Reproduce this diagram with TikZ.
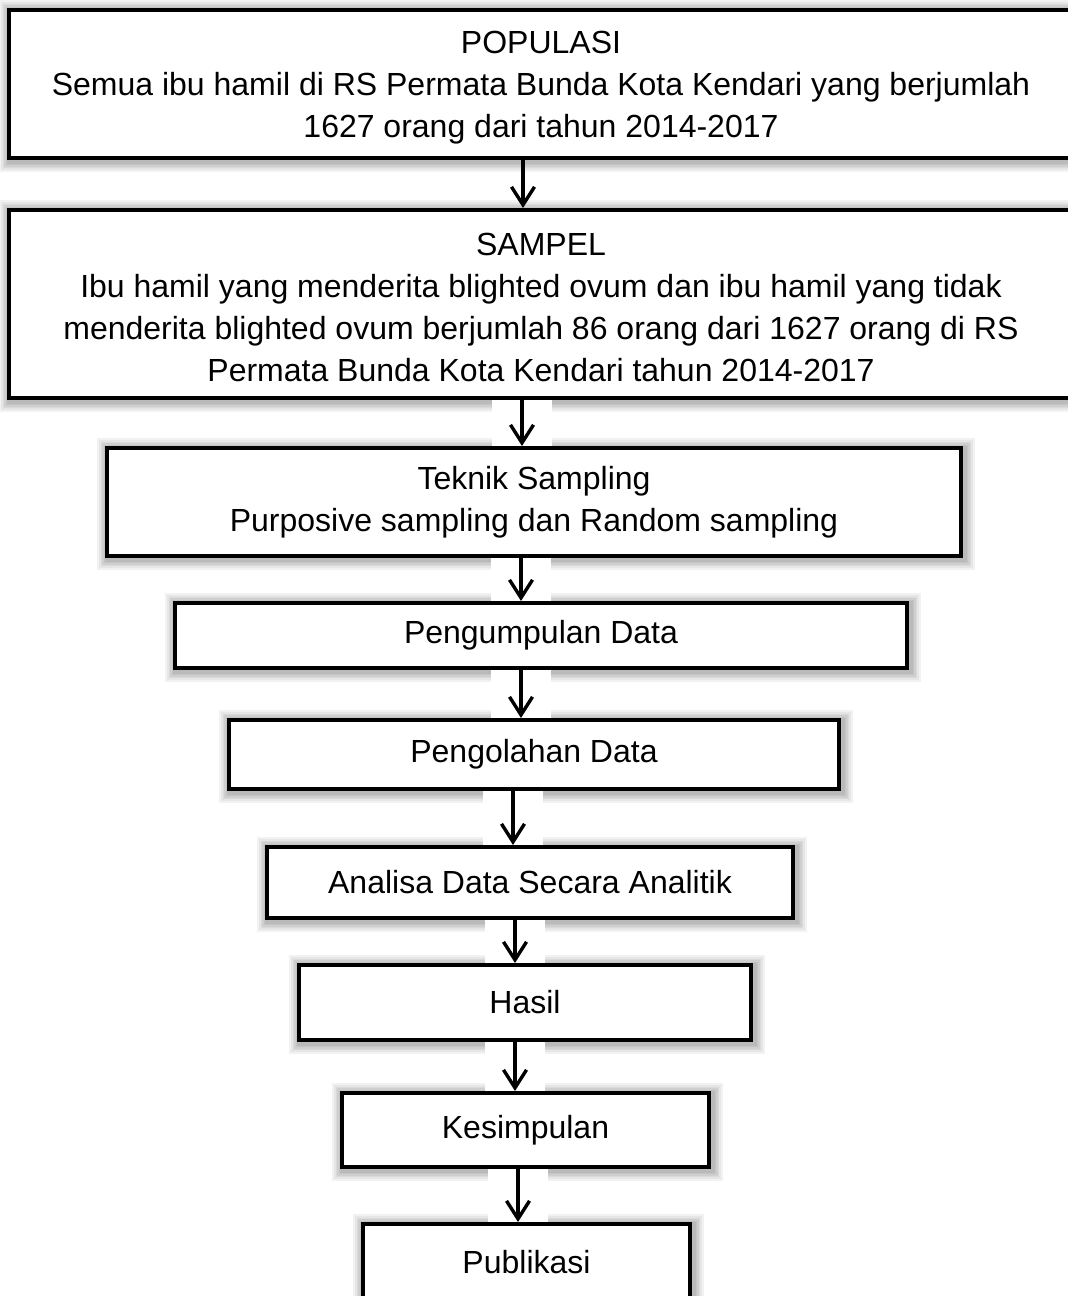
\documentclass[tikz,border=0pt]{standalone}
\usepackage{fontspec}
\setmainfont{Liberation Sans}
\usetikzlibrary{arrows.meta,backgrounds}
\tikzset{
  txt/.style={align=center, inner sep=0pt, font=\fontsize{16pt}{21pt}\selectfont},
  box/.style={draw=black, line width=2pt, fill=white, txt},
  sz/.style 2 args={minimum width=#1*0.5pt, minimum height=#2*0.5pt},
  arr/.style={line width=1.7pt, -{Straight Barb[length=9pt,width=11.5pt]}},
  shd/.style={fill=black, opacity=0.05},
  gap/.style={fill=white},
}
\newcommand\boxshadow[1]{%
  \foreach \d in {1,2,...,6}{%
    \fill[shd] ([xshift=-\d*0.8pt+1pt, yshift=\d*0.8pt-1pt]#1.north west)
      rectangle ([xshift=\d*0.8pt+1pt, yshift=-\d*0.8pt-1pt]#1.south east);}}
\begin{document}
\begin{tikzpicture}[x=0.5pt,y=-0.5pt]
\useasboundingbox (0,0) rectangle (1068,1296);

\node[box, sz={1081}{148}, label={[txt, xshift=-4.25pt, yshift=-2pt]center:{POPULASI\\Semua ibu hamil di RS Permata Bunda Kota Kendari yang berjumlah\\1627 orang dari tahun 2014-2017}}] (pop) at (549.5,84) {};
\node[box, sz={1081}{188}, label={[txt, xshift=-4.25pt, yshift=-1.5pt]center:{SAMPEL\\Ibu hamil yang menderita blighted ovum dan ibu hamil yang tidak\\menderita blighted ovum berjumlah 86 orang dari 1627 orang di RS\\Permata Bunda Kota Kendari tahun 2014-2017}}] (sam) at (549.5,304) {};
\node[box, sz={854}{108}] (tek) at (534,502)
  {Teknik Sampling\\Purposive sampling dan Random sampling};
\node[box, sz={732}{65}] (pgm) at (541,635.5) {Pengumpulan Data};
\node[box, sz={610}{69}] (pgl) at (534,754.5) {Pengolahan Data};
\node[box, sz={526}{71}] (ana) at (530,882.5) {Analisa Data Secara Analitik};
\node[box, sz={452}{75}] (has) at (525,1002.5) {Hasil};
\node[box, sz={367}{74}] (kes) at (525.5,1130) {Kesimpulan};
\node[box, sz={327}{76}] (pub) at (526.5,1262) {Publikasi};

\foreach \a/\b/\x [count=\i] in {pop/sam/523, sam/tek/522, tek/pgm/521, pgm/pgl/521,
    pgl/ana/513, ana/has/515, has/kes/515, kes/pub/518}{
  \coordinate (cx\i) at (\x,0);
  \coordinate (st\i) at (\a.south -| cx\i);
  \coordinate (en\i) at (\b.north -| cx\i);
  \draw[arr] (st\i) -- (en\i);
}

\begin{scope}[on background layer]
  \foreach \n in {pop,sam,tek,pgm,pgl,ana,has,kes,pub}{\boxshadow{\n}}
  \foreach \i in {2,...,8}{
    \fill[gap] ([xshift=-15pt, yshift=2pt]st\i) rectangle ([xshift=15pt, yshift=-2pt]en\i);
  }
\end{scope}
\end{tikzpicture}
\end{document}
